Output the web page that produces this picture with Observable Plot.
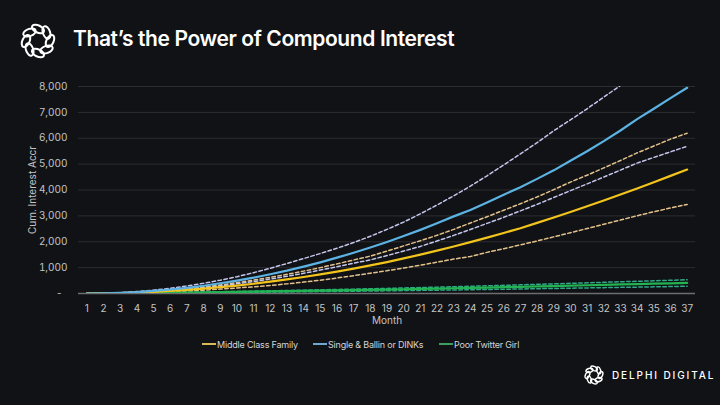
<!DOCTYPE html>
<html>
<head>
<meta charset="utf-8">
<script src="https://cdn.jsdelivr.net/npm/d3@7"></script>
<script src="https://cdn.jsdelivr.net/npm/@observablehq/plot@0.6"></script>
<style>
  html, body { margin: 0; padding: 0; }
  body { width: 720px; height: 405px; background: #111215; position: relative; overflow: hidden; font-family: Inter, "Noto Sans", sans-serif; color: #d0d0d0; }
  #header { position: absolute; left: 0; top: 0; width: 720px; height: 70px; }
  #title { position: absolute; left: 73px; top: 26px; font-size: 21px; font-weight: 600; color: #ffffff; letter-spacing: -0.4px; white-space: nowrap; }
  #chart { position: absolute; left: 0; top: 70px; }
  #legend { position: absolute; left: 0; top: 337px; width: 720px; height: 14px; }
  .item { position: absolute; top: 0; height: 14px; display: flex; align-items: center; font-size: 9px; color: #d4d4d4; white-space: nowrap; letter-spacing: -0.2px; }
  .sw { display: inline-block; width: 14px; height: 2px; margin-right: 1px; }
  #brand { position: absolute; left: 583px; top: 364px; height: 22px; display: flex; align-items: center; }
  #brand span { font-size: 10px; font-weight: 500; color: #ffffff; letter-spacing: 1.9px; margin-left: 7px; white-space: nowrap; }
</style>
</head>
<body>
<div id="header">
  <svg width="70" height="70" style="position:absolute;left:0;top:0">
    <g id="bigLogo" fill="none" stroke="#ffffff" stroke-width="2"></g>
  </svg>
  <div id="title">That’s the Power of Compound Interest</div>
</div>
<div id="chart"></div>
<div id="legend"></div>
<div id="brand">
  <svg width="22" height="22"><g id="smallLogo" fill="none" stroke="#ffffff" stroke-width="1.4"></g></svg>
  <span>DELPHI DIGITAL</span>
</div>
<script>
// ---------- data ----------
const months = d3.range(1, 38);
const monthLabels = months.map(String);
const yTicks = [0, 1000, 2000, 3000, 4000, 5000, 6000, 7000, 8000];

const seriesNames = ["Middle Class Family", "Single & Ballin or DINKs", "Poor Twitter Girl"];

const middleClass = [0, 4, 16, 36, 62, 96, 138, 186, 243, 308, 378, 458, 545, 638, 740, 848, 962, 1085, 1215, 1355, 1500, 1655, 1818, 1985, 2160, 2340, 2520, 2730, 2940, 3150, 3370, 3595, 3825, 4060, 4300, 4545, 4790];
const middleClassHigh = [0, 5, 20, 46, 82, 128, 184, 252, 330, 418, 516, 625, 740, 865, 1000, 1145, 1295, 1445, 1636, 1841, 2040, 2249, 2478, 2724, 2966, 3219, 3468, 3732, 4014, 4306, 4572, 4853, 5140, 5434, 5699, 5966, 6195];
const middleClassLow = [0, 3, 11, 24, 42, 66, 95, 130, 170, 213, 260, 312, 372, 440, 515, 598, 690, 785, 882, 985, 1095, 1210, 1330, 1430, 1590, 1730, 1880, 2030, 2190, 2350, 2510, 2675, 2840, 3005, 3160, 3305, 3440];

const ballin = [0, 6, 25, 55, 100, 155, 220, 300, 395, 500, 615, 745, 885, 1040, 1205, 1385, 1575, 1775, 1990, 2220, 2460, 2715, 2980, 3230, 3520, 3820, 4110, 4430, 4760, 5130, 5500, 5890, 6300, 6740, 7140, 7550, 7950];
const ballinHigh = [0, 8, 32, 75, 130, 200, 290, 395, 515, 650, 805, 975, 1160, 1350, 1545, 1750, 1970, 2210, 2480, 2760, 3080, 3420, 3775, 4150, 4550, 4970, 5395, 5830, 6290, 6710, 7140, 7590, 8040, 8500, 8980, 9460, 9950];
const ballinLow = [0, 5, 18, 41, 73, 115, 165, 225, 295, 375, 462, 560, 665, 780, 905, 1035, 1170, 1300, 1465, 1640, 1820, 2030, 2245, 2475, 2710, 2945, 3195, 3445, 3710, 3975, 4235, 4500, 4770, 5040, 5260, 5475, 5690];

const twitterGirl = [0, 6, 12, 18, 25, 32, 39, 46, 54, 62, 71, 80, 89, 99, 109, 119, 130, 141, 152, 164, 176, 189, 202, 215, 229, 243, 257, 272, 287, 302, 318, 334, 350, 362, 378, 394, 410];
const twitterGirlHigh = [0, 8, 16, 23, 32, 42, 51, 60, 70, 81, 92, 104, 116, 129, 142, 155, 169, 183, 198, 213, 229, 246, 263, 280, 298, 316, 334, 354, 373, 393, 413, 434, 455, 471, 491, 512, 530];
const twitterGirlLow = [0, 4, 8, 12, 17, 22, 27, 31, 37, 42, 48, 54, 61, 67, 74, 81, 88, 96, 103, 112, 120, 129, 137, 146, 156, 165, 175, 185, 195, 205, 216, 227, 238, 246, 257, 268, 280];

// ---------- styles ----------
const colors = {
  yellow: "#f2c41c", yellowDash: "#e3c28c",
  blue: "#5cb3e3", blueDash: "#c3c6ec",
  green: "#22b451", greenDash: "#2fa98a"
};
const legendColors = ["#d8b95a", "#6ea8cf", "#3a9f5c"];

const toRows = (vals) => months.map((m, i) => ({month: m, value: vals[i]}));

const dashed = (vals, stroke) => Plot.line(toRows(vals), {x: "month", y: "value", stroke, strokeWidth: 1.5, strokeDasharray: "3.5,2.5", clip: true});
const solid = (vals, stroke) => Plot.line(toRows(vals), {x: "month", y: "value", stroke, strokeWidth: 2.2, clip: true});

const fmt = d3.format(",");

const chart = Plot.plot({
  width: 720,
  height: 265,
  marginTop: 16,
  marginBottom: 42,
  marginLeft: 78,
  marginRight: 25,
  style: {background: "transparent", color: "#c4c4c4", fontFamily: "Inter, 'Noto Sans', sans-serif", fontSize: "10px"},
  x: {type: "point", domain: months, padding: 0.5, round: false},
  y: {domain: [0, 8000]},
  marks: [
    Plot.gridY(yTicks.slice(1), {stroke: "#2c2d31", strokeOpacity: 1, strokeWidth: 1}),
    Plot.axisY(yTicks, {tickSize: 0, tickPadding: 11, tickFormat: d => d === 0 ? "-\u2002" : fmt(d), label: "Cum. Interest Accr", labelAnchor: "center", labelOffset: 50, labelArrow: "none", fontSize: 10}),
    Plot.axisX(months, {tickSize: 0, tickPadding: 11, tickFormat: (d, i) => monthLabels[i], label: "Month", labelAnchor: "center", labelOffset: 30, labelArrow: "none", fontSize: 10}),
    Plot.ruleY([0], {stroke: "#6e6e70", strokeWidth: 1.6}),
    dashed(twitterGirlHigh, colors.greenDash),
    dashed(twitterGirlLow, colors.greenDash),
    dashed(middleClassHigh, colors.yellowDash),
    dashed(middleClassLow, colors.yellowDash),
    dashed(ballinHigh, colors.blueDash),
    dashed(ballinLow, colors.blueDash),
    solid(twitterGirl, colors.green),
    solid(middleClass, colors.yellow),
    solid(ballin, colors.blue)
  ]
});
document.getElementById("chart").appendChild(chart);

// ---------- legend ----------
const legendX = [202, 313, 439];
const legend = document.getElementById("legend");
seriesNames.forEach((name, i) => {
  const item = document.createElement("div");
  item.className = "item";
  item.style.left = legendX[i] + "px";
  const sw = document.createElement("span");
  sw.className = "sw";
  sw.style.background = legendColors[i];
  item.appendChild(sw);
  item.appendChild(document.createTextNode(name));
  legend.appendChild(item);
});

// ---------- logos ----------
function drawLogo(g, cx, cy, r, rx, ry, n) {
  for (let k = 0; k < n; k++) {
    const a = (360 / n) * k;
    const rad = a * Math.PI / 180;
    const x = cx + r * Math.cos(rad), y = cy + r * Math.sin(rad);
    const e = document.createElementNS("http://www.w3.org/2000/svg", "ellipse");
    e.setAttribute("cx", x); e.setAttribute("cy", y);
    e.setAttribute("rx", rx); e.setAttribute("ry", ry);
    e.setAttribute("transform", `rotate(${a + 90 + 25} ${x} ${y})`);
    g.appendChild(e);
  }
}
drawLogo(document.getElementById("bigLogo"), 38, 41, 12, 6.5, 3.6, 8);
drawLogo(document.getElementById("smallLogo"), 11, 11, 6.5, 3.6, 2, 8);
</script>
</body>
</html>
